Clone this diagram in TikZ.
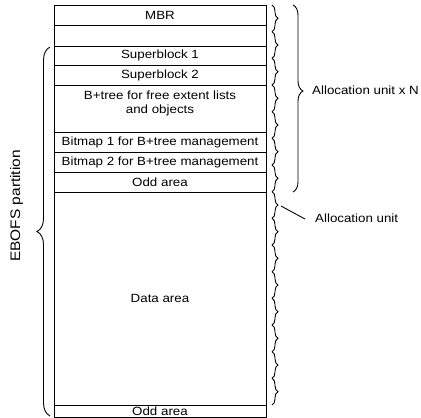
\documentclass[tikz,border=0pt]{standalone}
\usepackage{fontspec}
\setmainfont[FakeStretch=1.12]{Liberation Sans}
\usetikzlibrary{decorations.pathreplacing}
\tikzset{
  row/.style={draw, line width=0.9pt, minimum width=212pt, inner sep=0pt, anchor=north west},
  lbl/.style={font=\fontsize{11.9}{13.5}\selectfont, inner sep=0pt},
  ubrace/.style={draw, line width=0.9pt, decorate, decoration={brace, amplitude=6pt}},
  bigbrace/.style={draw, line width=0.9pt, decorate, decoration={brace, amplitude=10pt, aspect=#1}},
}
\begin{document}
\begin{tikzpicture}[x=1pt,y=-1pt]
\useasboundingbox (0,0) rectangle (421,418);
% rows
\node[row, minimum height=20pt] (mbr) at (54,5) {};
\node[row, minimum height=20.5pt] (blank) at (54,25) {};
\node[row, minimum height=19.5pt] (sb1) at (54,45.5) {};
\node[row, minimum height=20pt] (sb2) at (54,65) {};
\node[row, minimum height=47pt] (btree) at (54,85) {};
\node[row, minimum height=20pt] (bm1) at (54,132) {};
\node[row, minimum height=20pt] (bm2) at (54,152) {};
\node[row, minimum height=20pt] (odd1) at (54,172) {};
\node[row, minimum height=213pt] (data) at (54,192) {};
\node[row, minimum height=12pt] (odd2) at (54,405) {};
% texts
\node[lbl] (tmbr) at (160,15) {MBR};
\node[lbl] (tsb1) at (160,55.5) {Superblock 1};
\node[lbl] (tsb2) at (160,75) {Superblock 2};
\node[lbl, align=center] (tbt) at (160,103.5) {B+tree for free extent lists\\and objects};
\node[lbl] (tbm1) at (160,142) {Bitmap 1 for B+tree management};
\node[lbl] (tbm2) at (160,162) {Bitmap 2 for B+tree management};
\node[lbl] (todd1) at (160,182) {Odd area};
\node[lbl] (tdata) at (160,298.5) {Data area};
\node[lbl] (todd2) at (160,411.5) {Odd area};
% small braces
\foreach \i in {0,...,14} {
  \coordinate (u\i) at (272,{5+26.667*\i});
}
\coordinate (u15) at (272,405);
\foreach \i [evaluate=\i as \j using int(\i+1)] in {0,...,14} {
  \draw[ubrace] (u\i) -- (u\j);
}
% big right brace
\coordinate (bt) at (293,5);
\coordinate (bb) at (293,192);
\draw[bigbrace=0.46] (bt) -- (bb);
\node[lbl, anchor=west] (aun) at (312,90.5) {Allocation unit x N};
% allocation unit pointer
\node[lbl, anchor=west] (au) at (315,218.5) {Allocation unit};
\coordinate (ptr) at (281,206);
\coordinate (ptrend) at (305,219);
\draw[line width=0.9pt] (ptr) -- (ptrend);
% left brace
\coordinate (lb) at (50,416);
\coordinate (lt) at (50,47);
\draw[bigbrace=0.5, decoration={amplitude=13pt}] (lb) -- (lt);
\node[lbl, font=\fontsize{13.8}{15}\selectfont, rotate=90] (ebofs) at (16.5,206) {EBOFS partition};
\end{tikzpicture}
\end{document}
